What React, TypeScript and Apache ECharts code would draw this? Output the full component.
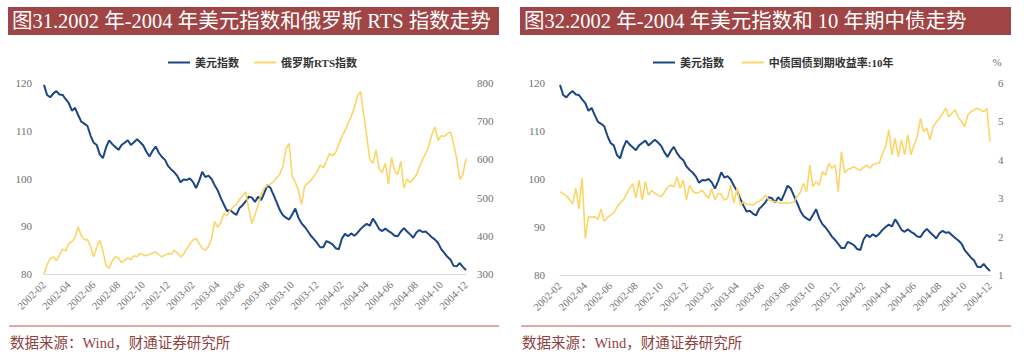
import React, { useEffect, useRef } from "react";
import * as echarts from "echarts";

// x positions are months counted from 2002-02, one value every quarter month
const STEP = 0.25;

const X_TICK_LABELS = [
  "2002-02", "2002-04", "2002-06", "2002-08", "2002-10", "2002-12",
  "2003-02", "2003-04", "2003-06", "2003-08", "2003-10", "2003-12",
  "2004-02", "2004-04", "2004-06", "2004-08", "2004-10", "2004-12",
];

const TITLE_1 = "图31.2002 年-2004 年美元指数和俄罗斯 RTS 指数走势";
const TITLE_2 = "图32.2002 年-2004 年美元指数和 10 年期中债走势";
const SOURCE = "数据来源：Wind，财通证券研究所";
const NAME_DXY = "美元指数";
const NAME_RTS = "俄罗斯RTS指数";
const NAME_CGB = "中债国债到期收益率:10年";

const DXY = [
  119.6, 117.5, 117.0, 117.8,
  118.3, 117.6, 117.5, 116.6,
  115.8, 114.2, 114.8, 113.3,
  111.9, 111.5, 111.0, 109.0,
  107.5, 107.0, 105.0, 104.3,
  106.5, 108.0, 107.2, 106.6,
  106.0, 107.0, 107.5, 108.0,
  107.0, 107.6, 108.2, 107.6,
  106.9, 105.6, 104.6, 105.8,
  106.7, 105.4, 104.5, 103.9,
  102.6, 101.9, 101.3, 100.5,
  99.2, 99.8, 99.7, 100.0,
  99.3, 98.0, 99.5, 101.4,
  100.3, 100.6, 99.9, 98.6,
  97.5, 95.9, 94.5, 93.2,
  93.4, 92.8, 92.4, 93.8,
  94.4, 95.2, 96.2, 96.0,
  95.1, 96.2, 95.5, 97.0,
  98.6, 98.0, 96.5, 95.0,
  93.4, 92.3, 91.8, 91.4,
  92.5, 93.7, 91.8, 90.6,
  89.9, 89.0, 88.0, 87.3,
  86.5, 85.6, 85.6, 86.9,
  86.6, 86.2, 85.4, 85.2,
  87.4, 88.4, 87.9, 88.5,
  88.0, 88.6, 89.4, 90.0,
  90.5, 90.1, 91.6, 90.6,
  89.4, 89.0, 89.5, 89.0,
  88.6, 88.0, 87.9, 88.9,
  89.6, 88.9, 88.3, 87.6,
  88.7, 89.2, 88.8, 88.9,
  88.3, 87.7, 87.2, 86.5,
  85.2, 84.4, 83.6, 83.0,
  81.7, 81.6, 82.3, 81.5,
  80.8,
];

const RTS = [
  300, 325, 340, 345,
  335, 350, 365, 360,
  380, 385, 395, 424,
  400, 390, 390, 372,
  345, 370, 388, 360,
  322, 315, 335, 345,
  342, 330, 336, 342,
  338, 348, 345, 354,
  350, 348, 352, 355,
  358, 350, 345, 350,
  354, 352, 362, 355,
  345, 352, 366, 378,
  389, 393, 380, 367,
  362, 372, 393, 438,
  422, 436, 458, 452,
  468, 475, 482, 495,
  505, 515, 470, 432,
  455, 480, 510, 525,
  532, 536, 542, 552,
  562, 582, 628, 642,
  555, 540, 518, 482,
  530, 538, 545, 556,
  568, 585, 578, 595,
  615, 610, 618, 640,
  660, 675, 695, 712,
  735, 765, 778, 720,
  660, 600, 590, 625,
  575, 565, 590, 535,
  605, 570, 560, 595,
  525, 548, 540, 548,
  560, 580, 600, 615,
  635, 665, 685, 650,
  662, 660, 668, 672,
  640, 603, 548, 560,
  602,
];

const CGB10Y = [
  3.17, 3.12, 3.06, 2.97,
  2.85, 3.26, 2.72, 3.52,
  1.96, 2.52, 2.50, 2.52,
  2.45, 2.72, 2.40, 2.50,
  2.56, 2.62, 2.76, 2.88,
  2.95, 3.10, 3.25, 3.38,
  3.00, 3.47, 2.95, 3.43,
  3.08, 3.20, 3.13, 3.08,
  3.04, 3.15, 3.28, 3.34,
  3.30, 3.56, 3.26, 3.47,
  2.95, 3.34, 3.18, 3.13,
  3.15, 3.21, 3.08, 3.00,
  3.26, 2.95, 3.13, 3.10,
  2.95, 3.00, 3.34, 2.87,
  3.26, 2.82, 2.90, 2.85,
  2.84, 2.82, 2.88, 2.92,
  2.98, 3.08, 2.96, 2.92,
  2.91, 2.89, 2.87, 2.88,
  2.86, 2.88, 2.90, 3.05,
  3.15, 3.39, 3.17, 3.86,
  3.30, 3.43, 3.34, 3.69,
  3.60, 3.91, 3.78, 3.86,
  3.17, 4.21, 3.65, 3.75,
  3.78, 3.82, 3.76, 3.73,
  3.80, 3.86, 3.78, 3.88,
  3.91, 3.91, 4.17, 4.34,
  4.78, 4.13, 4.56, 4.08,
  4.52, 4.13, 4.65, 4.13,
  4.39, 4.60, 5.08, 4.73,
  4.82, 4.52, 4.86, 4.98,
  5.08, 5.21, 5.34, 5.12,
  5.22, 5.30, 5.10, 5.00,
  4.86, 5.17, 5.25, 5.30,
  5.34, 5.30, 5.25, 5.34,
  4.47,
];

const BLUE = "#1b4585";
const YELLOW = "#fcd568";
const BANNER = "#9f4545";
const RULE = "#c0504d";
const SOURCE_COLOR = "#8f3f3f";
const AXIS_TEXT = "#6f6f6f";
const SERIF = "'Liberation Serif', 'Times New Roman', 'Noto Sans CJK SC', serif";

const toPairs = (arr: number[]) => arr.map((v, i) => [i * STEP, v]);

function xAxisFor(gridIndex: number) {
  return {
    type: "value",
    gridIndex,
    min: 0,
    max: 34,
    interval: 2,
    axisLine: { show: true, lineStyle: { color: "#d9d9d9", width: 1 } },
    axisTick: { show: false },
    splitLine: { show: false },
    axisLabel: {
      rotate: 45,
      margin: 9,
      fontSize: 10.5,
      color: AXIS_TEXT,
      fontFamily: SERIF,
      showMinLabel: true,
      showMaxLabel: true,
      formatter: (v: number) => X_TICK_LABELS[Math.round(v / 2)] ?? "",
    },
  };
}

function yAxisFor(gridIndex: number, position: string, min: number, max: number, interval: number, margin: number) {
  return {
    type: "value",
    gridIndex,
    position,
    min,
    max,
    interval,
    axisLine: { show: false },
    axisTick: { show: false },
    splitLine: { show: false },
    axisLabel: { fontSize: 11, color: AXIS_TEXT, fontFamily: SERIF, margin },
  };
}

export default function App() {
  const ref = useRef<HTMLDivElement>(null);

  useEffect(() => {
    document.body.style.margin = "0";
    if (!ref.current) return;
    const chart = echarts.init(ref.current, null, { renderer: "svg" });

    const legendBase = {
      orient: "horizontal",
      top: 52,
      itemWidth: 22,
      itemHeight: 2,
      itemGap: 15,
      icon: "rect",
      textStyle: { fontSize: 11, color: "#333", fontWeight: "bold", fontFamily: SERIF },
    };

    const banner = (x: number, text: string) => [
      { type: "rect", shape: { x, y: 7, width: 491, height: 28 }, style: { fill: BANNER }, silent: true },
      {
        type: "text",
        x: x + 4,
        y: 21,
        style: { text, fill: "#fff", fontSize: 20.5, fontFamily: SERIF, verticalAlign: "middle", align: "left" },
        silent: true,
      },
      { type: "line", shape: { x1: x + 1, y1: 326, x2: x + 491, y2: 326 }, style: { stroke: RULE, lineWidth: 1 }, silent: true },
      {
        type: "text",
        x: x + 2,
        y: 343,
        style: { text: SOURCE, fill: SOURCE_COLOR, fontSize: 14.5, fontFamily: SERIF, verticalAlign: "middle", align: "left" },
        silent: true,
      },
    ];

    chart.setOption({
      animation: false,
      backgroundColor: "#fff",
      grid: [
        { left: 44, right: 558, top: 83, bottom: 90 },
        { left: 560, right: 34, top: 83, bottom: 89 },
      ],
      legend: [
        { ...legendBase, left: 163, data: [NAME_DXY, NAME_RTS] },
        { ...legendBase, left: 648, data: [{ name: NAME_DXY + " " }, { name: NAME_CGB }] },
      ],
      xAxis: [xAxisFor(0), xAxisFor(1)],
      yAxis: [
        yAxisFor(0, "left", 80, 120, 10, 12),
        yAxisFor(0, "right", 300, 800, 100, 11),
        yAxisFor(1, "left", 80, 120, 10, 15),
        yAxisFor(1, "right", 1, 6, 1, 8),
      ],
      graphic: [
        ...banner(8, TITLE_1),
        ...banner(520, TITLE_2),
        {
          type: "text",
          x: 997,
          y: 62,
          style: { text: "%", fill: AXIS_TEXT, fontSize: 11, fontFamily: SERIF, align: "center", verticalAlign: "middle" },
          silent: true,
        },
      ],
      series: [
        {
          name: NAME_DXY,
          type: "line",
          xAxisIndex: 0,
          yAxisIndex: 0,
          data: toPairs(DXY),
          showSymbol: false,
          lineStyle: { color: BLUE, width: 2 },
          itemStyle: { color: BLUE },
        },
        {
          name: NAME_RTS,
          type: "line",
          xAxisIndex: 0,
          yAxisIndex: 1,
          data: toPairs(RTS),
          showSymbol: false,
          lineStyle: { color: YELLOW, width: 1.6 },
          itemStyle: { color: YELLOW },
        },
        {
          name: NAME_DXY + " ",
          type: "line",
          xAxisIndex: 1,
          yAxisIndex: 2,
          data: toPairs(DXY),
          showSymbol: false,
          lineStyle: { color: BLUE, width: 2 },
          itemStyle: { color: BLUE },
        },
        {
          name: NAME_CGB,
          type: "line",
          xAxisIndex: 1,
          yAxisIndex: 3,
          data: toPairs(CGB10Y),
          showSymbol: false,
          lineStyle: { color: YELLOW, width: 1.6 },
          itemStyle: { color: YELLOW },
        },
      ],
    });

    return () => chart.dispose();
  }, []);

  return <div ref={ref} style={{ width: 1024, height: 364 }} />;
}
